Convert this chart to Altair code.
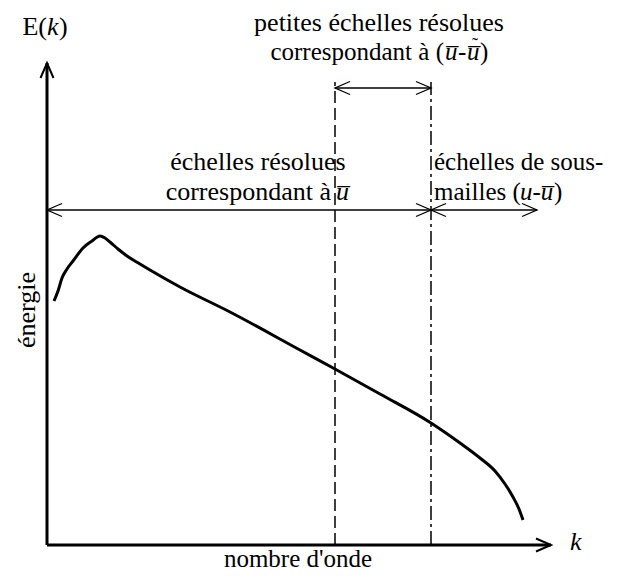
import altair as alt
import pandas as pd

# Energy spectrum curve E(k) (arbitrary units)
k_vals = [0.07, 0.11, 0.15, 0.20, 0.26, 0.36, 0.45, 0.53, 0.58, 0.63, 0.71, 0.80,
          0.93, 1.03, 1.33, 1.83, 2.53, 2.88, 3.33, 3.84, 4.13, 4.33, 4.48, 4.58,
          4.66, 4.72, 4.76]
e_vals = [2.44, 2.54, 2.67, 2.76, 2.84, 2.97, 3.04, 3.09, 3.07, 3.03, 2.96, 2.89,
          2.81, 2.75, 2.58, 2.33, 1.95, 1.76, 1.51, 1.22, 1.02, 0.87, 0.74, 0.61,
          0.48, 0.36, 0.25]

# cut-off wavenumbers and annotation geometry (same units)
k_test = 2.88     # dashed line
k_cut = 3.84      # dash-dot line
k_axis_end = 5.04
e_axis_end = 4.82
k_sub_end = 4.90
e_mid_arrow = 3.35
e_top_arrow = 4.57
e_vlines_top = 4.63

FONT = "Liberation Serif"
FS = 26

xs = alt.Scale(domain=[-0.39, 5.63], nice=False, zero=False)
ys = alt.Scale(domain=[-0.25, 5.37], nice=False, zero=False)


def X(f="k"):
    return alt.X(f"{f}:Q", scale=xs, axis=None)


def Y(f="E"):
    return alt.Y(f"{f}:Q", scale=ys, axis=None)


curve_df = pd.DataFrame({"k": k_vals, "E": e_vals, "o": range(len(k_vals))})
curve = alt.Chart(curve_df).mark_line(
    color="black", strokeWidth=3, interpolate="monotone"
).encode(x=X(), y=Y(), order="o:Q")

# axes
axes_df = pd.DataFrame({
    "k": [0, 0], "E": [0, 0], "k2": [0, k_axis_end], "E2": [e_axis_end, 0]
})
axes = alt.Chart(axes_df).mark_rule(color="black", strokeWidth=3).encode(
    x=X(), y=Y(), x2="k2:Q", y2="E2:Q"
)

# horizontal arrows
harr_df = pd.DataFrame({
    "k": [0, k_test], "k2": [k_sub_end, k_cut], "E": [e_mid_arrow, e_top_arrow]
})
harr = alt.Chart(harr_df).mark_rule(color="black", strokeWidth=1.5).encode(
    x=X(), x2="k2:Q", y=Y()
)

# vertical cut-off lines
vdash = alt.Chart(pd.DataFrame({"k": [k_test], "E": [0], "E2": [e_vlines_top]})).mark_rule(
    color="black", strokeWidth=1.5, strokeDash=[12, 5]
).encode(x=X(), y=Y(), y2="E2:Q")
vdashdot = alt.Chart(pd.DataFrame({"k": [k_cut], "E": [0], "E2": [e_vlines_top]})).mark_rule(
    color="black", strokeWidth=1.5, strokeDash=[14, 4, 3, 4]
).encode(x=X(), y=Y(), y2="E2:Q")

# arrow heads (open chevrons)
L, W = 0.15, 0.065
heads = [
    (0, e_axis_end, "up", 2.0),
    (k_axis_end, 0, "right", 2.0),
    (k_test, e_top_arrow, "left", 1.3),
    (k_cut, e_top_arrow, "right", 1.3),
    (0, e_mid_arrow, "left", 1.3),
    (k_cut, e_mid_arrow, "right", 1.3),
    (k_cut, e_mid_arrow, "left", 1.3),
    (k_sub_end, e_mid_arrow, "right", 1.3),
]
rows = []
for i, (hk, he, d, sw) in enumerate(heads):
    if d == "up":
        pts = [(hk - W, he - L), (hk, he), (hk + W, he - L)]
    elif d == "right":
        pts = [(hk - L, he + W), (hk, he), (hk - L, he - W)]
    else:
        pts = [(hk + L, he + W), (hk, he), (hk + L, he - W)]
    for j, (pk, pe) in enumerate(pts):
        rows.append({"k": pk, "E": pe, "g": i, "o": j, "sw": sw})
heads_df = pd.DataFrame(rows)
head_layers = []
for sw in sorted(set(heads_df["sw"])):
    head_layers.append(
        alt.Chart(heads_df[heads_df["sw"] == sw]).mark_line(
            color="black", strokeWidth=sw
        ).encode(x=X(), y=Y(), detail="g:N", order="o:Q")
    )


def txt(s, kx, ey, align="center", italic=False, size=FS, angle=0):
    df = pd.DataFrame({"k": [kx], "E": [ey], "t": [s]})
    kw = dict(align=align, baseline="alphabetic", font=FONT, fontSize=size,
              color="black", fontStyle="italic" if italic else "normal")
    if angle:
        kw["angle"] = angle
    return alt.Chart(df).mark_text(**kw).encode(x=X(), y=Y(), text="t:N")


OV = "\u0305"
texts = [
    txt("E(", 0.0, 5.10, align="right"),
    txt("k", 0.0, 5.10, align="left", italic=True),
    txt(")", 0.12, 5.10, align="left"),
    txt("énergie", -0.12, 2.35, align="center", angle=270),
    txt("nombre d'onde", 2.51, -0.22, align="center", size=25),
    txt("k", 5.23, -0.05, align="left", italic=True),
    txt("petites échelles résolues", 3.32, 5.14),
    txt("correspondant à (", 3.97, 4.85, align="right", size=25),
    txt("u" + OV, 3.98, 4.85, align="left", italic=True, size=25),
    txt("-", 4.11, 4.85, align="left", size=25),
    txt("u" + OV, 4.20, 4.85, align="left", italic=True, size=25),
    txt("\u02dc", 4.28, 4.94, align="center", size=18),
    txt(")", 4.33, 4.85, align="left", size=25),
    txt("échelles résolues", 2.11, 3.75),
    txt("correspondant à", 2.84, 3.45, align="right"),
    txt("u" + OV, 2.89, 3.45, align="left", italic=True),
    txt("échelles de sous-", 3.87, 3.75, align="left", size=25),
    txt("mailles (", 3.87, 3.45, align="left", size=25),
    txt("u-u" + OV, 4.73, 3.45, align="left", italic=True, size=25),
    txt(")", 5.07, 3.45, align="left", size=25),
]

chart = alt.layer(
    vdash, vdashdot, harr, *head_layers, axes, curve, *texts
).properties(
    width=602, height=562, padding=0,
    autosize=alt.AutoSizeParams(type="none"),
).configure_view(stroke=None)

chart.save("out.html", embed_options={"renderer": "svg", "actions": False})
